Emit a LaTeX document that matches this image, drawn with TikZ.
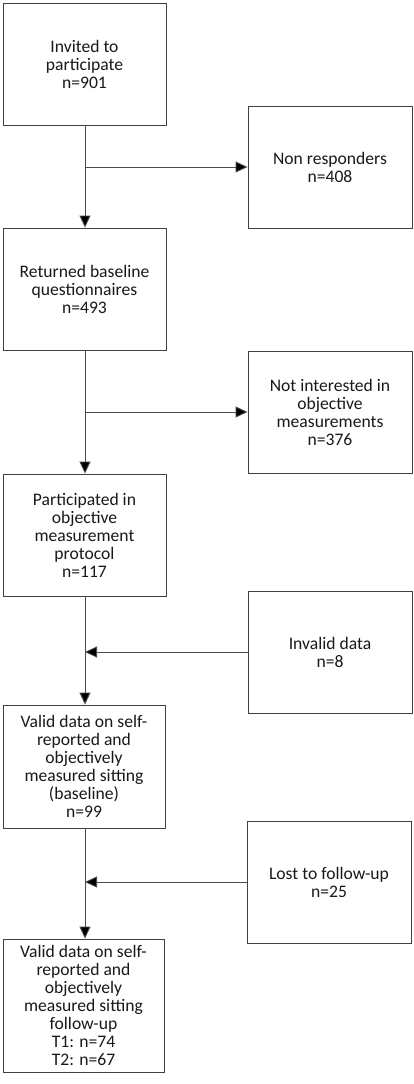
\documentclass[tikz,border=0pt]{standalone}
\usepackage{fontspec}
\setmainfont{Carlito}
\usetikzlibrary{arrows.meta}
\begin{document}
\begin{tikzpicture}[x=1pt,y=-1pt,
  box/.style={draw=black!75, line width=0.9pt, rectangle, minimum width=163pt, minimum height=122pt, align=center, inner sep=2pt, font=\fontsize{17.6}{18}\selectfont, text=black!90},
  conn/.style={draw=black!70, line width=0.9pt},
  arr/.style={conn, -{Triangle[length=12pt,width=11pt,fill=black]}}]
\useasboundingbox (0,0) rectangle (414,1084);
\fill[white] (0,0) rectangle (414,1084);
\node[box] (b1) at (84.5,64) {Invited to\\participate\\n=901};
\node[box, minimum width=164pt] (nr) at (330,167) {Non responders\\n=408};
\node[box] (b2) at (84.5,289) {Returned baseline\\questionnaires\\n=493};
\node[box, minimum width=164pt] (ni) at (330,412) {Not interested in\\objective\\measurements\\n=376};
\node[box] (b3) at (84.5,535) {Participated in\\objective\\measurement\\protocol\\n=117};
\node[box, minimum width=164pt] (id) at (330,652) {Invalid data\\n=8};
\node[box, minimum width=162pt, minimum height=123pt] (b4) at (84,766.5) {Valid data on self-\\reported and\\objectively\\measured sitting\\(baseline)\\n=99};
\node[box, minimum width=164pt] (lf) at (329,882) {Lost to follow-up\\n=25};
\node[box, minimum width=161pt, minimum height=133pt] (b5) at (83.5,1005.5) {Valid data on self-\\reported and\\objectively\\measured sitting\\follow-up\\T1: n=74\\T2: n=67};
\draw[arr] (b1.south -| 85,0) -- (b2.north -| 85,0);
\draw[arr] (nr.west -| 85,0) -- (nr.west);
\draw[arr] (b2.south -| 85,0) -- (b3.north -| 85,0);
\draw[arr] (ni.west -| 85,0) -- (ni.west);
\draw[arr] (b3.south -| 85,0) -- (b4.north -| 85,0);
\draw[arr] (id.west) -- (id.west -| 85,0);
\draw[arr] (b4.south -| 85,0) -- (b5.north -| 85,0);
\draw[arr] (lf.west) -- (lf.west -| 85,0);
\end{tikzpicture}
\end{document}
